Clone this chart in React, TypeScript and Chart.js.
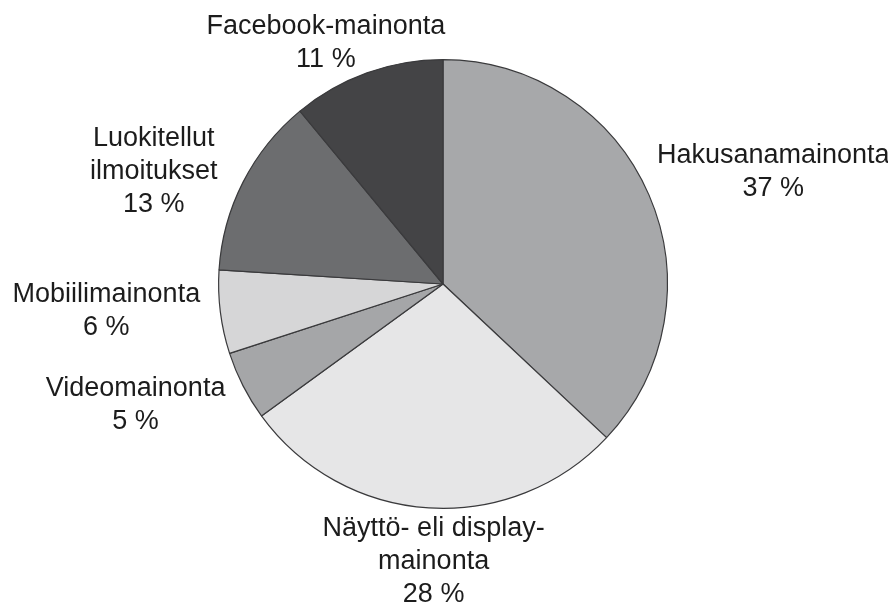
import React, { useEffect, useRef } from "react";
import { Chart, registerables } from "chart.js";

Chart.register(...registerables);

const categories = [
  "Hakusanamainonta",
  "Näyttö- eli display-\nmainonta",
  "Videomainonta",
  "Mobiilimainonta",
  "Luokitellut\nilmoitukset",
  "Facebook-mainonta",
];
const shares = [37, 28, 5, 6, 13, 11];
const sliceColors = ["#a7a8aa", "#e6e6e7", "#a5a6a8", "#d6d6d7", "#6c6d6f", "#444446"];
// label nudges (layout only)
const labelNudges: [number, number][] = [
  [13, -8],
  [12, -1],
  [-23, 2],
  [-16, -6],
  [-28, 14],
  [1, 6],
];

const FONT_SIZE = 27;
const LINE_H = 33;
const GAP = 5;

const labelPlugin = {
  id: "sliceLabels",
  afterDraw(chart: any) {
    const ctx = chart.ctx as CanvasRenderingContext2D;
    const meta = chart.getDatasetMeta(0);
    ctx.save();
    ctx.font = `${FONT_SIZE}px "Liberation Sans", Arial, Helvetica, sans-serif`;
    ctx.fillStyle = "#1c1c1c";
    ctx.textAlign = "center";
    ctx.textBaseline = "middle";
    meta.data.forEach((arc: any, i: number) => {
      const { x, y, startAngle, endAngle, outerRadius } = arc.getProps(
        ["x", "y", "startAngle", "endAngle", "outerRadius"],
        true
      );
      const mid = (startAngle + endAngle) / 2;
      const c = Math.cos(mid);
      const s = Math.sin(mid);
      const lines = [...categories[i].split("\n"), `${shares[i]} %`];
      const W = Math.max(...lines.map((l) => ctx.measureText(l).width));
      const H = lines.length * LINE_H;
      const ax = x + (outerRadius + GAP) * c;
      const ay = y + (outerRadius + GAP) * s;
      const cx = ax + (c * W) / 2 + labelNudges[i][0];
      const cy = ay + (s * H) / 2 + labelNudges[i][1];
      lines.forEach((l, k) => ctx.fillText(l, cx, cy - H / 2 + LINE_H * (k + 0.5)));
    });
    ctx.restore();
  },
};

export default function App() {
  const ref = useRef<HTMLCanvasElement | null>(null);
  useEffect(() => {
    if (!ref.current) return;
    const chart = new Chart(ref.current, {
      type: "pie",
      data: {
        labels: categories,
        datasets: [
          {
            data: shares,
            backgroundColor: sliceColors,
            borderColor: "#3a3a3c",
            borderWidth: 1.2,
          },
        ],
      },
      options: {
        responsive: false,
        animation: false,
        devicePixelRatio: 1,
        layout: { padding: { top: 59, bottom: 96, left: 218, right: 220 } },
        plugins: {
          legend: { display: false },
          tooltip: { enabled: false },
        },
      },
      plugins: [labelPlugin],
    });
    return () => chart.destroy();
  }, []);
  return (
    <div style={{ position: "absolute", left: 0, top: 0, width: 888, height: 605, background: "#fff" }}>
      <canvas ref={ref} width={888} height={605} />
    </div>
  );
}
